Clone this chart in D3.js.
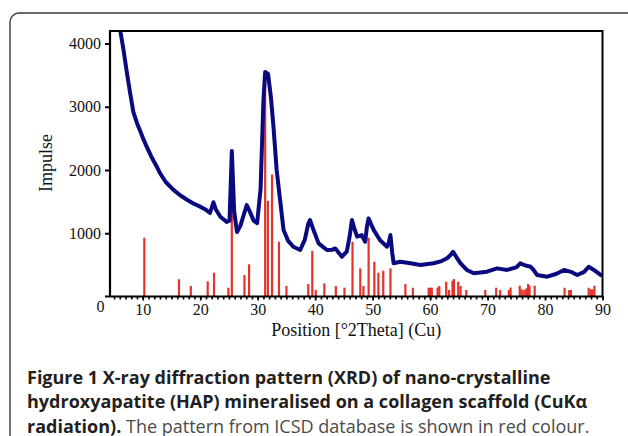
<!DOCTYPE html>
<html>
<head>
<meta charset="utf-8">
<script src="https://cdn.jsdelivr.net/npm/d3@7"></script>
<style>
  body { margin: 0; background: #fff; }
  svg { display: block; }
  .tick text { font-family: "Liberation Serif", serif; font-size: 16px; fill: #111; }
  .label { font-family: "Liberation Serif", serif; font-size: 18px; fill: #111; }
  .caption { font-family: "Open Sans", sans-serif; font-size: 18px; fill: #231f20; }
</style>
</head>
<body>
<script>
// measured pattern (2theta, impulse)
const twoTheta = [5.9, 6.15, 6.7, 7.2, 7.78, 8.36, 9.0, 9.5, 10.1, 10.7, 11.5, 12.4, 13.0, 14.0, 15.3, 16.5,
  17.7, 18.8, 20.0, 21.0, 21.7, 22.3, 22.7, 23.5, 24.6, 25.1, 25.5, 25.9, 26.4, 27.0, 27.6, 28.1, 28.6, 29.3,
  29.9, 30.5, 31.0, 31.3, 31.8, 32.3, 32.75, 33.3, 33.9, 34.5, 35.3, 36.2, 37.4, 38.2, 38.8, 39.1, 39.6, 40.6,
  42.05, 43.0, 43.5, 44.66, 45.5, 46.0, 46.4, 46.8, 47.3, 48.1, 48.7, 49.0, 49.3, 49.7, 50.2, 51.3, 52.5, 52.8,
  53.1, 53.4, 53.65, 54.8, 56.6, 58.3, 60.6, 62.0, 62.95, 63.6, 64.0, 64.6, 65.3, 66.4, 67.6, 69.9, 71.65, 73.4,
  75.0, 75.7, 76.6, 77.5, 78.0, 78.6, 80.4, 82.0, 83.3, 84.5, 85.6, 86.8, 87.6, 88.5, 89.9]
const impulse = [4450, 4170, 3870, 3560, 3230, 2920, 2740, 2630, 2490, 2366, 2210, 2060, 1950, 1810, 1690, 1600,
  1530, 1470, 1420, 1370, 1320, 1490, 1380, 1260, 1180, 1200, 2300, 1350, 1020, 1120, 1300, 1445, 1350, 1200,
  1160, 1700, 3100, 3550, 3520, 3150, 2680, 2000, 1525, 1050, 880, 787, 735, 900, 1150, 1210, 1080, 840,
  735, 740, 760, 630, 710, 950, 1210, 1080, 945, 970, 866, 1100, 1235, 1150, 1050, 890, 787, 850,
  970, 700, 525, 550, 525, 497, 525, 560, 605, 660, 707, 620, 525, 420, 367, 392, 445, 420,
  460, 525, 490, 470, 420, 340, 313, 360, 420, 390, 340, 390, 470, 420, 324]

// ICSD reference lines
const refPos = [10.27, 16.3, 18.36, 21.3, 22.4, 24.9, 25.5, 27.7, 28.5, 31.3, 31.77, 32.5, 33.7, 35.0, 38.8, 39.5,
  40.1, 41.6, 43.6, 45.1, 46.5, 47.85, 48.4, 49.3, 50.3, 51.0, 51.85, 53.1, 55.7, 57.0, 59.75, 60.0, 60.3,
  61.3, 61.6, 62.8, 63.3, 63.9, 64.15, 64.9, 65.3, 66.3, 69.6, 71.5, 72.2, 73.7, 74.0, 75.6, 75.95, 76.4,
  76.75, 77.05, 77.3, 78.2, 83.4, 84.2, 84.5, 87.6, 88.0, 88.3, 88.6]
const refInt = [929, 272, 166, 240, 376, 139, 1482, 340, 509, 3470, 1513, 1930, 866, 166, 197, 723,
  103, 208, 166, 139, 866, 445, 166, 929, 550, 376, 408, 445, 197, 139, 139, 139, 139,
  142, 166, 234, 103, 250, 276, 234, 166, 103, 103, 139, 103, 103, 142, 171, 113, 103,
  129, 197, 171, 171, 139, 103, 103, 139, 113, 113, 171]

const yTicks = [1000, 2000, 3000, 4000]
const xTicks = [10, 20, 30, 40, 50, 60, 70, 80, 90]

const captionBold = ["Figure 1 X-ray diffraction pattern (XRD) of nano-crystalline",
  "hydroxyapatite (HAP) mineralised on a collagen scaffold (CuK\u03b1",
  "radiation)."]
const captionRest = " The pattern from ICSD database is shown in red colour."

const W = 628, H = 436
const plot = {left: 110, right: 602.5, top: 31, bottom: 296.5}

let svg = d3.select('body').append('svg')
    .attr('width', W)
    .attr('height', H)

// outer rounded frame (cropped at right/bottom)
svg.append('rect')
    .attr('x', 10).attr('y', 13)
    .attr('width', 660).attr('height', 460)
    .attr('rx', 9)
    .attr('fill', 'none')
    .attr('stroke', '#3a3a3a')
    .attr('stroke-width', 1.4)

let x = d3.scaleLinear().domain([4.3, 90]).range([plot.left, plot.right])
let y = d3.scaleLinear().domain([0, 4000]).range([plot.bottom, 43.5])

svg.append('defs').append('clipPath')
    .attr('id', 'clip')
  .append('rect')
    .attr('x', plot.left).attr('y', plot.top)
    .attr('width', plot.right - plot.left).attr('height', plot.bottom - plot.top)

// red reference bars
svg.append('g')
    .attr('clip-path', 'url(#clip)')
  .selectAll('rect')
  .data(refPos.map((p, i) => ({p, v: refInt[i]})))
  .join('rect')
    .attr('x', d => x(d.p) - 1.1)
    .attr('y', d => y(d.v))
    .attr('width', 2.2)
    .attr('height', d => y(0) - y(d.v))
    .attr('fill', '#e3332b')

// measured line
const pts = twoTheta.map((t, i) => [t, impulse[i]])
svg.append('path')
    .datum(pts)
    .attr('clip-path', 'url(#clip)')
    .attr('d', d3.line().x(d => x(d[0])).y(d => y(d[1])))
    .attr('fill', 'none')
    .attr('stroke', '#0a0a80')
    .attr('stroke-width', 4)
    .attr('stroke-linejoin', 'round')

// frame top + right
svg.append('path')
    .attr('d', `M${plot.left},${plot.top}H${plot.right}V${plot.bottom}`)
    .attr('fill', 'none')
    .attr('stroke', '#000')
    .attr('stroke-width', 2)

// y axis
let yAxis = d3.axisLeft(y).tickValues(yTicks).tickFormat(d3.format('d'))
    .tickSize(5).tickPadding(4).tickSizeOuter(0)
let gy = svg.append('g')
    .attr('transform', `translate(${plot.left},0)`)
    .call(yAxis)
gy.select('.domain').attr('d', `M0,${plot.bottom}V${plot.top - 1}`).attr('stroke-width', 2.2)
gy.selectAll('.tick line').attr('stroke-width', 2)

// x axis: minor ticks every degree
let xMinor = d3.axisBottom(x).tickValues(d3.range(5, 91)).tickSize(3).tickFormat('')
let gxm = svg.append('g')
    .attr('transform', `translate(0,${plot.bottom})`)
    .call(xMinor)
gxm.select('.domain').remove()
gxm.selectAll('.tick line').attr('stroke-width', 1.6)

let xAxis = d3.axisBottom(x).tickValues(xTicks).tickFormat(d3.format('d'))
    .tickSize(4).tickPadding(3).tickSizeOuter(0)
let gx = svg.append('g')
    .attr('transform', `translate(0,${plot.bottom})`)
    .call(xAxis)
gx.select('.domain').attr('d', `M105,0H${plot.right + 1}`).attr('stroke-width', 2.2)
gx.selectAll('.tick line').attr('stroke-width', 1.6)

// origin label
svg.append('text')
    .attr('class', 'label')
    .attr('x', 100.5).attr('y', 312)
    .attr('text-anchor', 'middle')
    .style('font-size', '16px')
    .text('0')

// axis titles
svg.append('text')
    .attr('class', 'label')
    .attr('transform', `translate(${(plot.left + plot.right) / 2},336) `)
    .attr('text-anchor', 'middle')
    .text('Position [\u00b02Theta] (Cu)')

svg.append('text')
    .attr('class', 'label')
    .attr('transform', `translate(52,163) rotate(-90)`)
    .attr('text-anchor', 'middle')
    .text('Impulse')

// caption
let cap = svg.append('text')
    .attr('class', 'caption')
    .attr('x', 27)
cap.selectAll('tspan.b')
  .data(captionBold)
  .join('tspan')
    .attr('class', 'b')
    .attr('x', 27)
    .attr('y', (d, i) => 383.5 + i * 24.5)
    .attr('font-weight', 'bold')
    .text(d => d)
cap.append('tspan')
    .attr('fill', '#4a4a4a')
    .text(captionRest)
</script>
</body>
</html>
